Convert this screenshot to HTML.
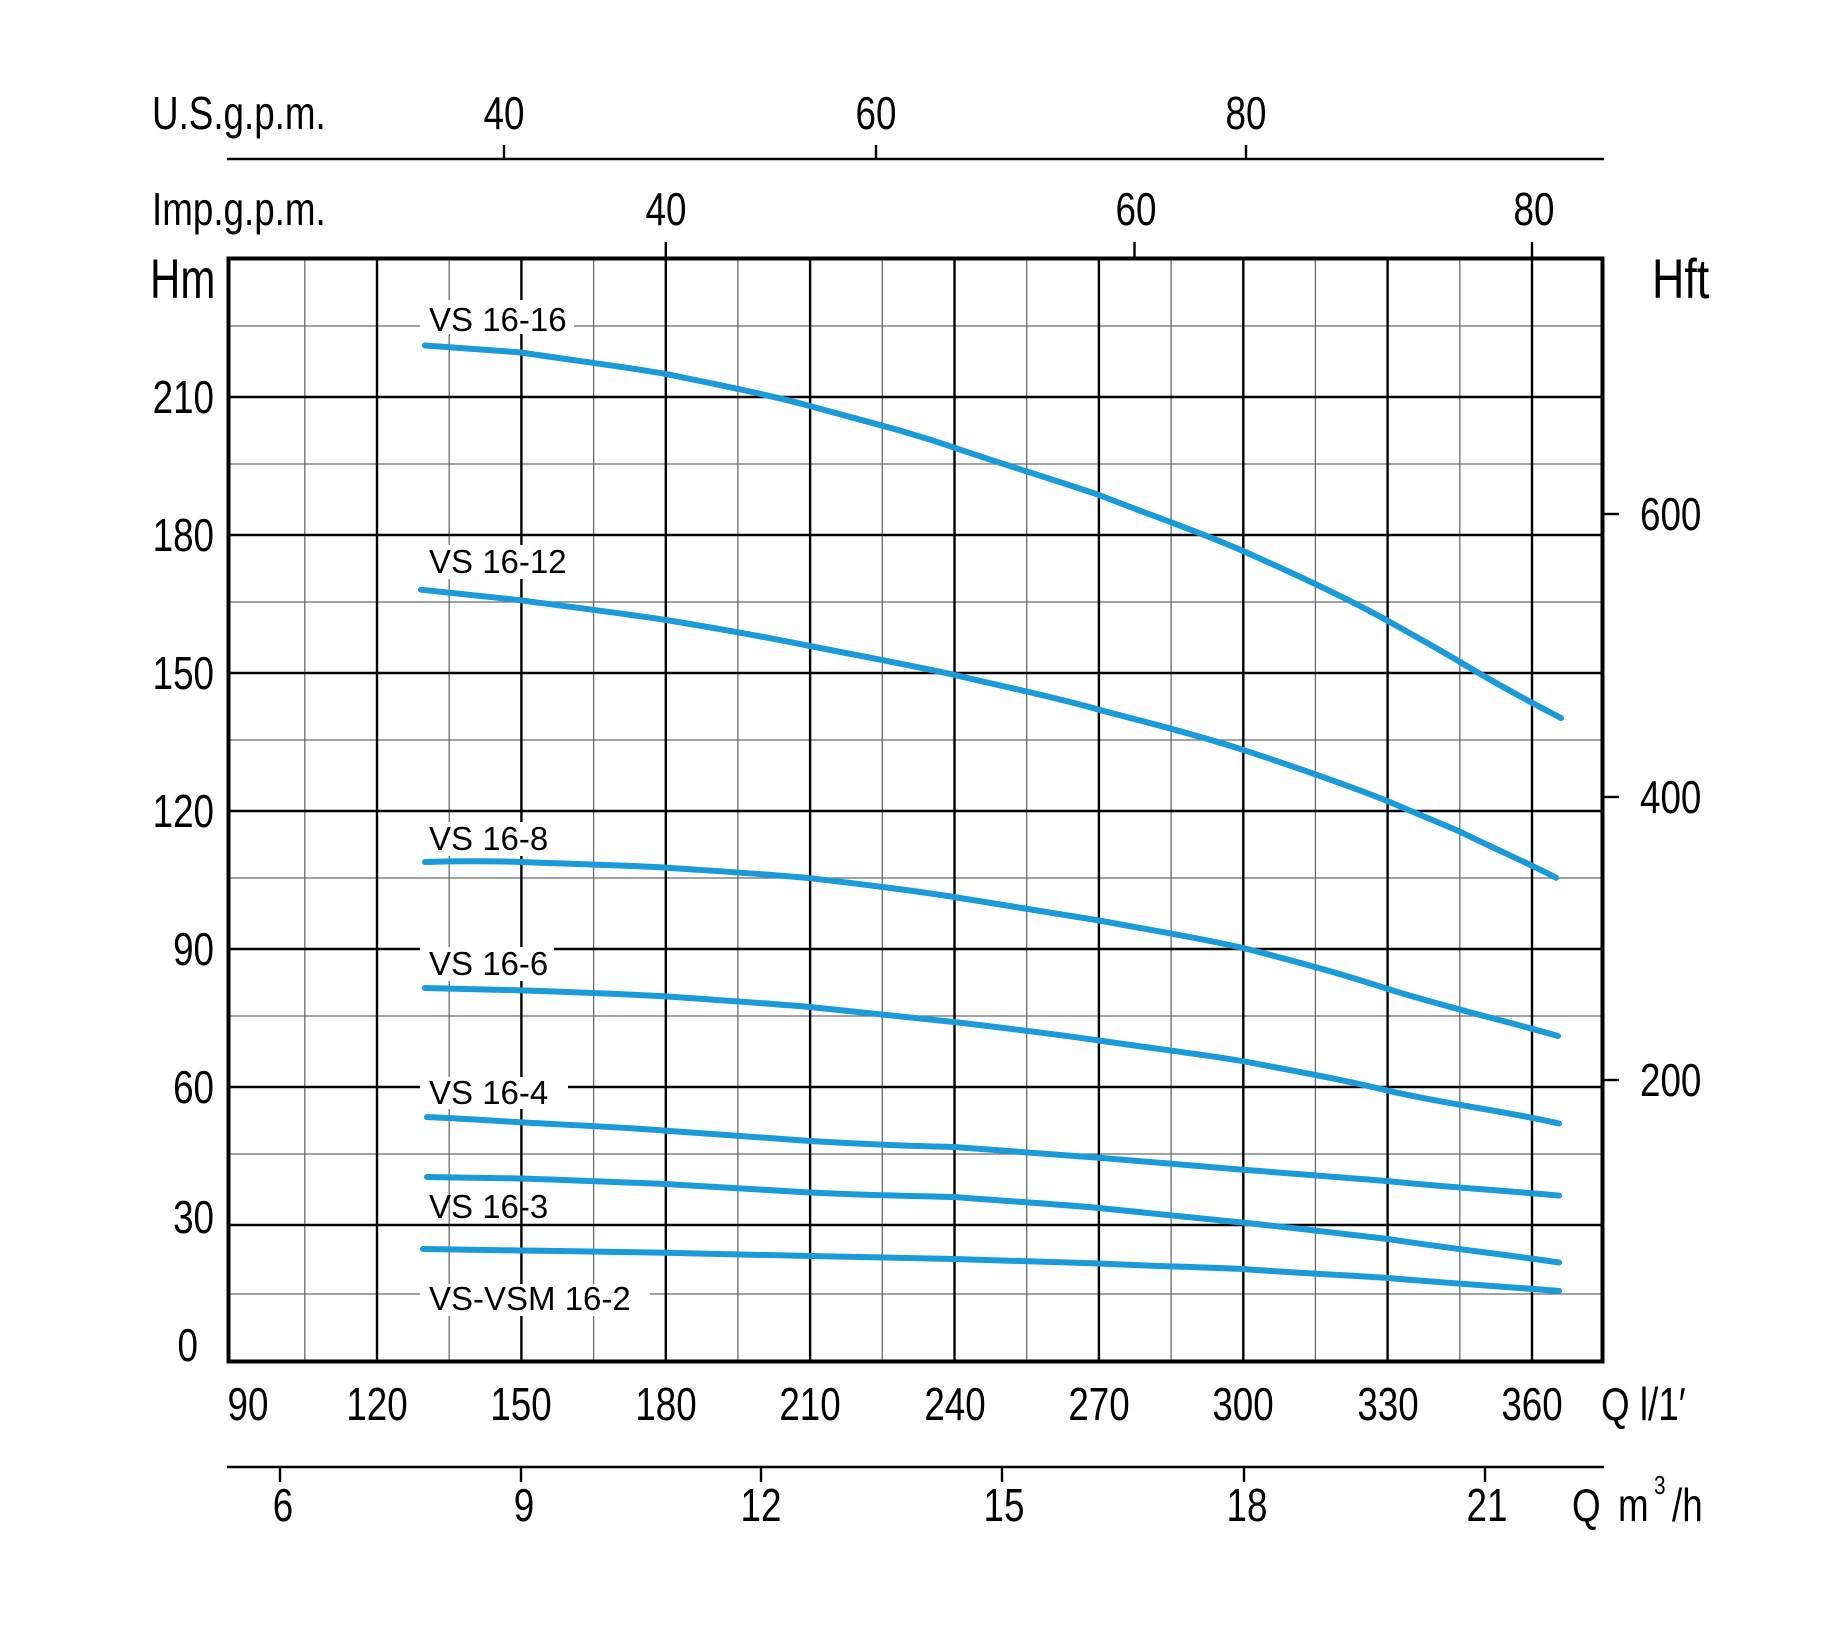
<!DOCTYPE html>
<html><head><meta charset="utf-8"><style>
html,body{margin:0;padding:0;background:#fff;}
svg{display:block;}
text{font-family:"Liberation Sans",sans-serif;fill:#000;}
.n{font-size:46px;}
.lab{font-family:"Liberation Sans",sans-serif;font-size:33px;}
</style></head><body>
<svg width="1830" height="1636" viewBox="0 0 1830 1636" xmlns="http://www.w3.org/2000/svg">
<rect width="1830" height="1636" fill="#fff"/>
<!-- fine grid -->
<g stroke="#6a6a6a" stroke-width="1.3">
<line x1="304.8" y1="257" x2="304.8" y2="1363"/>
<line x1="449.2" y1="257" x2="449.2" y2="1363"/>
<line x1="593.6" y1="257" x2="593.6" y2="1363"/>
<line x1="737.9" y1="257" x2="737.9" y2="1363"/>
<line x1="882.3" y1="257" x2="882.3" y2="1363"/>
<line x1="1026.7" y1="257" x2="1026.7" y2="1363"/>
<line x1="1171.1" y1="257" x2="1171.1" y2="1363"/>
<line x1="1315.4" y1="257" x2="1315.4" y2="1363"/>
<line x1="1459.8" y1="257" x2="1459.8" y2="1363"/>
<line x1="227" y1="326" x2="1604" y2="326"/>
<line x1="227" y1="464" x2="1604" y2="464"/>
<line x1="227" y1="602" x2="1604" y2="602"/>
<line x1="227" y1="740" x2="1604" y2="740"/>
<line x1="227" y1="878" x2="1604" y2="878"/>
<line x1="227" y1="1016" x2="1604" y2="1016"/>
<line x1="227" y1="1154" x2="1604" y2="1154"/>
<line x1="227" y1="1294" x2="1604" y2="1294"/>
</g>
<!-- bold grid -->
<g stroke="#000" stroke-width="2.4">
<line x1="377" y1="257" x2="377" y2="1363"/>
<line x1="521.4" y1="257" x2="521.4" y2="1363"/>
<line x1="665.8" y1="257" x2="665.8" y2="1363"/>
<line x1="810.1" y1="257" x2="810.1" y2="1363"/>
<line x1="954.5" y1="257" x2="954.5" y2="1363"/>
<line x1="1098.9" y1="257" x2="1098.9" y2="1363"/>
<line x1="1243.3" y1="257" x2="1243.3" y2="1363"/>
<line x1="1387.6" y1="257" x2="1387.6" y2="1363"/>
<line x1="1532" y1="257" x2="1532" y2="1363"/>
<line x1="227" y1="397" x2="1604" y2="397"/>
<line x1="227" y1="535" x2="1604" y2="535"/>
<line x1="227" y1="673" x2="1604" y2="673"/>
<line x1="227" y1="811" x2="1604" y2="811"/>
<line x1="227" y1="949" x2="1604" y2="949"/>
<line x1="227" y1="1087" x2="1604" y2="1087"/>
<line x1="227" y1="1225" x2="1604" y2="1225"/>
</g>
<rect x="228.5" y="258.5" width="1374" height="1103" fill="none" stroke="#000" stroke-width="4"/>

<!-- axes -->
<g stroke="#000" stroke-width="2.4">
<line x1="227" y1="159" x2="1604" y2="159"/>
<line x1="504" y1="145" x2="504" y2="159"/>
<line x1="876" y1="145" x2="876" y2="159"/>
<line x1="1246" y1="145" x2="1246" y2="159"/>
<line x1="665.8" y1="242" x2="665.8" y2="257"/>
<line x1="1134.5" y1="242" x2="1134.5" y2="257"/>
<line x1="1532" y1="242" x2="1532" y2="257"/>
<line x1="227" y1="1467" x2="1604" y2="1467"/>
<line x1="280" y1="1467" x2="280" y2="1482"/>
<line x1="521" y1="1467" x2="521" y2="1482"/>
<line x1="761" y1="1467" x2="761" y2="1482"/>
<line x1="1002" y1="1467" x2="1002" y2="1482"/>
<line x1="1244" y1="1467" x2="1244" y2="1482"/>
<line x1="1485" y1="1467" x2="1485" y2="1482"/>
<line x1="1604" y1="1080" x2="1619" y2="1080"/>
<line x1="1604" y1="797" x2="1619" y2="797"/>
<line x1="1604" y1="514" x2="1619" y2="514"/>
</g>

<g class="n">
<text transform="translate(152,129) scale(0.8,1)">U.S.g.p.m.</text>
<text transform="translate(504,129) scale(0.8,1)" text-anchor="middle">40</text>
<text transform="translate(876,129) scale(0.8,1)" text-anchor="middle">60</text>
<text transform="translate(1246,129) scale(0.8,1)" text-anchor="middle">80</text>
<text transform="translate(152,225) scale(0.8,1)">Imp.g.p.m.</text>
<text transform="translate(666,225) scale(0.8,1)" text-anchor="middle">40</text>
<text transform="translate(1136,225) scale(0.8,1)" text-anchor="middle">60</text>
<text transform="translate(1534,225) scale(0.8,1)" text-anchor="middle">80</text>
<text transform="translate(150,298) scale(0.75,1)" style="font-size:56px">Hm</text>
<text transform="translate(1652,298) scale(0.8,1)" style="font-size:56px">Hft</text>
<text transform="translate(214,413) scale(0.8,1)" text-anchor="end">210</text>
<text transform="translate(214,551) scale(0.8,1)" text-anchor="end">180</text>
<text transform="translate(214,689) scale(0.8,1)" text-anchor="end">150</text>
<text transform="translate(214,827) scale(0.8,1)" text-anchor="end">120</text>
<text transform="translate(214,965) scale(0.8,1)" text-anchor="end">90</text>
<text transform="translate(214,1103) scale(0.8,1)" text-anchor="end">60</text>
<text transform="translate(214,1233) scale(0.8,1)" text-anchor="end">30</text>
<text transform="translate(198,1361) scale(0.8,1)" text-anchor="end">0</text>
<text transform="translate(1640,530) scale(0.8,1)">600</text>
<text transform="translate(1640,813) scale(0.8,1)">400</text>
<text transform="translate(1640,1096) scale(0.8,1)">200</text>
<text transform="translate(248,1420) scale(0.8,1)" text-anchor="middle">90</text>
<text transform="translate(377,1420) scale(0.8,1)" text-anchor="middle">120</text>
<text transform="translate(521,1420) scale(0.8,1)" text-anchor="middle">150</text>
<text transform="translate(666,1420) scale(0.8,1)" text-anchor="middle">180</text>
<text transform="translate(810,1420) scale(0.8,1)" text-anchor="middle">210</text>
<text transform="translate(955,1420) scale(0.8,1)" text-anchor="middle">240</text>
<text transform="translate(1099,1420) scale(0.8,1)" text-anchor="middle">270</text>
<text transform="translate(1243,1420) scale(0.8,1)" text-anchor="middle">300</text>
<text transform="translate(1388,1420) scale(0.8,1)" text-anchor="middle">330</text>
<text transform="translate(1532,1420) scale(0.8,1)" text-anchor="middle">360</text>
<text transform="translate(1601,1420) scale(0.8,1)">Q  l/1′</text>
<text transform="translate(283,1521) scale(0.8,1)" text-anchor="middle">6</text>
<text transform="translate(524,1521) scale(0.8,1)" text-anchor="middle">9</text>
<text transform="translate(761,1521) scale(0.8,1)" text-anchor="middle">12</text>
<text transform="translate(1004,1521) scale(0.8,1)" text-anchor="middle">15</text>
<text transform="translate(1247,1521) scale(0.8,1)" text-anchor="middle">18</text>
<text transform="translate(1487,1521) scale(0.8,1)" text-anchor="middle">21</text>
<text transform="translate(1572,1521) scale(0.8,1)">Q</text>
<text transform="translate(1618,1521) scale(0.8,1)">m</text>
<text transform="translate(1654,1494) scale(0.8,1)" style="font-size:26px">3</text>
<text transform="translate(1672,1521) scale(0.8,1)">/h</text>
</g>

<!-- curve labels -->
<g class="lab">
<rect x="420" y="300" width="154" height="34" fill="#fff"/>
<text x="429" y="331">VS 16-16</text>
<rect x="420" y="545" width="154" height="34" fill="#fff"/>
<text x="429" y="573">VS 16-12</text>
<rect x="420" y="822" width="134" height="34" fill="#fff"/>
<text x="429" y="850">VS 16-8</text>
<rect x="420" y="947" width="134" height="34" fill="#fff"/>
<text x="429" y="975">VS 16-6</text>
<rect x="420" y="1077" width="148" height="32" fill="#fff"/>
<text x="429" y="1104">VS 16-4</text>
<text x="429" y="1218">VS 16-3</text>
<rect x="420" y="1284" width="230" height="32" fill="#fff"/>
<text x="429" y="1310">VS-VSM 16-2</text>
</g>

<!-- curves -->
<g fill="none" stroke="#1a9ad8" stroke-width="6" stroke-linecap="round" stroke-linejoin="round">
<path d="M425,345.5 C460,348 490,350 521,352.5 C570,360 620,366 666,374 C715,384 765,394 810,406 C860,420 910,432 954,447.6 C1005,465 1055,480 1099,495 C1150,515 1200,532 1243,551 C1295,574 1345,597 1388,621 C1415,636 1440,650 1460,662 C1495,683 1530,702 1561,718"/>
<path d="M421,589.7 C460,594 490,597 521,600.3 C570,607 620,613 666,620 C715,628 765,637 810,646 C860,656 910,665 954,674.8 C1005,687 1055,697 1099,709.8 C1150,723 1200,736 1243,749.8 C1295,767 1345,784 1388,801.3 C1415,813 1440,823 1460,831.7 C1495,849 1530,864 1556,877.7"/>
<path d="M425,862 C460,861 490,861 521,862 C570,864 620,865 666,867.6 C715,871 765,874 810,878.2 C860,884 910,890 954,897 C1005,905 1055,913 1099,920.5 C1150,930 1200,938 1243,948 C1295,961 1345,975 1388,989 C1445,1007 1510,1022 1558,1036"/>
<path d="M425,988 C460,989 490,989.5 521,990.4 C570,992 620,994 666,996.4 C715,1000 765,1003 810,1007 C860,1012 910,1017 954,1022 C1005,1028 1055,1034 1099,1040.5 C1150,1048 1200,1054 1243,1061.2 C1295,1071 1345,1080 1388,1090.7 C1445,1104 1510,1112 1559,1123.5"/>
<path d="M427,1117 C470,1119 500,1121 521,1122.4 C570,1125 620,1127 666,1130.7 C715,1134 765,1138 810,1141 C860,1144 910,1146 954,1147 C1005,1151 1055,1154 1099,1157.7 C1150,1162 1200,1166 1243,1169.7 C1295,1174 1345,1178 1388,1181.1 C1445,1187 1510,1191 1559,1195.6"/>
<path d="M427,1177 C470,1178 500,1178 521,1178.5 C570,1180 620,1182 666,1184 C715,1187 765,1190 810,1192.5 C860,1195 910,1196 954,1197 C1005,1201 1055,1204 1099,1208 C1150,1213 1200,1218 1243,1222.6 C1295,1228 1345,1234 1388,1239 C1445,1248 1510,1255 1559,1262.5"/>
<path d="M423,1249 C470,1250 500,1250 521,1250.5 C570,1251 620,1252 666,1252.7 C715,1254 765,1255 810,1256 C860,1257 910,1258 954,1259 C1005,1260.5 1055,1262 1099,1263.5 C1150,1266 1200,1267 1243,1269 C1295,1273 1345,1275 1388,1278 C1445,1283 1510,1287 1559,1291"/>
</g>
</svg>
</body></html>
